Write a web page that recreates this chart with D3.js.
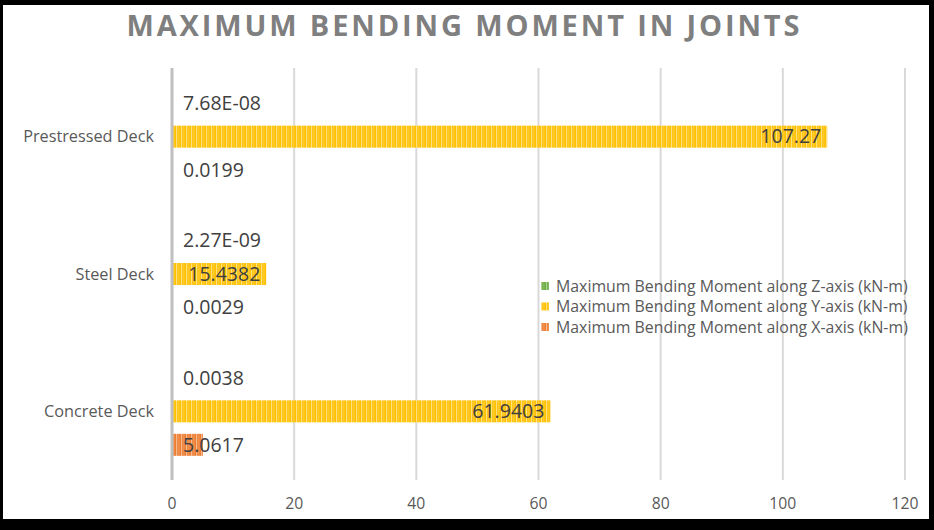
<!DOCTYPE html>
<html><head><meta charset="utf-8">
<script src="https://cdn.jsdelivr.net/npm/d3@7/dist/d3.min.js"></script>
<style>
html,body{margin:0;padding:0;background:#fff;}
svg{display:block;font-family:"Open Sans",sans-serif;}
</style></head>
<body><svg id="c" width="934" height="530"></svg>
<script>
const categories = ["Concrete Deck", "Steel Deck", "Prestressed Deck"];
const seriesNames = ["Maximum Bending Moment along Z-axis (kN-m)", "Maximum Bending Moment along Y-axis (kN-m)", "Maximum Bending Moment along X-axis (kN-m)"];
const zValues = [0.0038, 2.27e-9, 7.68e-8];
const yValues = [61.9403, 15.4382, 107.27];
const xValues = [5.0617, 0.0029, 0.0199];
const zLabels = ["0.0038", "2.27E-09", "7.68E-08"];
const yLabels = ["61.9403", "15.4382", "107.27"];
const xLabels = ["5.0617", "0.0029", "0.0199"];
const xTicks = [0, 20, 40, 60, 80, 100, 120];
const title = "MAXIMUM BENDING MOMENT IN JOINTS";

const series = [
  {key:"Z", name:seriesNames[0], values:zValues, labels:zLabels, base:"#70AD47", light:"#A9D18E"},
  {key:"Y", name:seriesNames[1], values:yValues, labels:yLabels, base:"#FFC000", light:"#FFE080"},
  {key:"X", name:seriesNames[2], values:xValues, labels:xLabels, base:"#ED7D31", light:"#F6B98F"}
];

const svg = d3.select("#c");
const defs = svg.append("defs");
series.forEach(s => {
  const p = defs.append("pattern").attr("id","pat"+s.key).attr("patternUnits","userSpaceOnUse")
    .attr("width",5).attr("height",10);
  p.append("rect").attr("width",5).attr("height",10).attr("fill",s.base);
  p.append("rect").attr("x",1).attr("width",1.2).attr("height",10).attr("fill",s.light);
  p.append("rect").attr("x",3.5).attr("width",0.8).attr("height",10).attr("fill",s.light).attr("opacity",0.6);
});

// font size that makes a sample string reach a target width
function fitSize(sample, target, weight) {
  const t = svg.append("text").attr("font-size",20).attr("font-weight",weight||"normal").text(sample);
  const w = t.node().getComputedTextLength();
  t.remove();
  return 20*target/w;
}
const fsData = fitSize("7.68E-08", 78);
const fsCat = fitSize("Prestressed Deck", 131);
const fsLeg = fitSize(seriesNames[0], 352);
const fsTick = fitSize("120", 27);

const x = d3.scaleLinear().domain([0,120]).range([172,905]);
const y = d3.scaleBand().domain(categories.slice().reverse()).range([68,480]);
const inner = d3.scaleBand().domain(series.map(s=>s.key)).range([-44.5,44.5]).paddingInner(0.343);

// gridlines
svg.append("g").selectAll("line").data(xTicks.slice(1)).join("line")
  .attr("x1",d=>x(d)).attr("x2",d=>x(d)).attr("y1",68).attr("y2",480)
  .attr("stroke","#d9d9d9").attr("stroke-width",2);

// bars
const gBars = svg.append("g");
series.forEach(s => {
  gBars.selectAll(null).data(categories.map((c,i)=>({c, v:s.values[i], l:s.labels[i]}))).join("rect")
    .attr("x",x(0)).attr("width",d=>Math.max(0,x(d.v)-x(0)))
    .attr("y",d=>y(d.c)+y.bandwidth()/2+inner(s.key)).attr("height",inner.bandwidth())
    .attr("fill","url(#pat"+s.key+")");
});

// axis line at 0
svg.append("line").attr("x1",x(0)).attr("x2",x(0)).attr("y1",68).attr("y2",480)
  .attr("stroke","#bfbfbf").attr("stroke-width",3);

// data labels
const gLab = svg.append("g").attr("font-size",fsData).attr("fill","#404040");
series.forEach(s => {
  categories.forEach((c,i) => {
    const cy = y(c)+y.bandwidth()/2+inner(s.key)+inner.bandwidth()/2;
    const t = gLab.append("text").attr("y",cy).attr("dy","0.35em").text(s.labels[i]);
    const w = t.node().getComputedTextLength();
    const end = x(s.values[i]) - 6;
    let start = end - w;
    if (start < x(0)+11) start = x(0)+11;
    t.attr("x",start);
  });
});

// category labels
svg.append("g").selectAll("text").data(categories).join("text")
  .attr("x",154).attr("y",d=>y(d)+y.bandwidth()/2).attr("dy","0.35em")
  .attr("text-anchor","end").attr("font-size",fsCat).attr("fill","#595959").text(d=>d);

// x tick labels
svg.append("g").selectAll("text").data(xTicks).join("text")
  .attr("x",d=>x(d)).attr("y",503).attr("dy","0.35em").attr("text-anchor","middle")
  .attr("font-size",fsTick).attr("fill","#595959").text(d=>d);

// legend
const lg = svg.append("g");
series.forEach((s,i) => {
  const ly = 286 + i*20.5;
  lg.append("rect").attr("x",541).attr("y",ly-4).attr("width",8).attr("height",8).attr("fill","url(#pat"+s.key+")");
  lg.append("text").attr("x",556).attr("y",ly).attr("dy","0.35em").attr("font-size",fsLeg).attr("fill","#595959").text(s.name);
});

// title
const tt = svg.append("text").attr("x",463).attr("y",36).attr("text-anchor","middle")
  .attr("font-size",29).attr("font-weight","bold").attr("fill","#7f7f7f").text(title);
const tw = tt.node().getComputedTextLength();
const ls = (673 - tw)/(title.length-1);
tt.attr("letter-spacing",ls).attr("x",463+ls/2);

// frame
svg.append("rect").attr("x",0).attr("y",0).attr("width",934).attr("height",5).attr("fill","#000");
svg.append("rect").attr("x",0).attr("y",0).attr("width",3).attr("height",530).attr("fill","#000");
svg.append("rect").attr("x",929).attr("y",0).attr("width",5).attr("height",530).attr("fill","#000");
svg.append("rect").attr("x",0).attr("y",519).attr("width",934).attr("height",11).attr("fill","#000");
</script></body></html>
